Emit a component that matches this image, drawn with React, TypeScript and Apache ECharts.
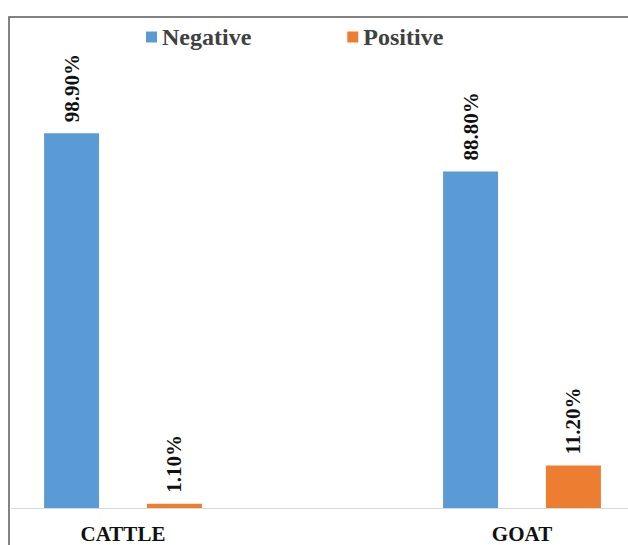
import React, { useEffect, useRef } from "react";
import * as echarts from "echarts";

const categories = ["CATTLE", "GOAT"];
const negativeValues = [98.9, 88.8];
const positiveValues = [1.1, 11.2];
const seriesNames = ["Negative", "Positive"];

const OFFSET = 100;

export default function App() {
  const ref = useRef<HTMLDivElement>(null);
  useEffect(() => {
    const chart = echarts.init(ref.current!, null, { renderer: "svg" });
    const font = "'Liberation Serif', 'Times New Roman', serif";
    const label = {
      show: true,
      position: "top",
      rotate: 90,
      align: "left",
      verticalAlign: "middle",
      distance: 11,
      fontFamily: font,
      fontWeight: "bold",
      fontSize: 21,
      color: "#111",
      formatter: (p: any) => p.value.toFixed(2) + "%",
    };
    chart.setOption({
      animation: false,
      backgroundColor: "#fff",
      textStyle: { fontFamily: font },
      legend: {
        left: 146 + OFFSET - 5,
        top: 20,
        itemWidth: 11,
        itemHeight: 11,
        itemGap: 96,
        icon: "rect",
        textStyle: { fontFamily: font, fontWeight: "bold", fontSize: 24, color: "#404040" },
        data: seriesNames,
      },
      grid: { left: OFFSET - 76.5, width: 798, top: 129, bottom: 37 },
      xAxis: {
        type: "category",
        data: categories,
        axisLine: { show: false },
        axisTick: { show: false },
        axisLabel: { margin: 15, fontFamily: font, fontWeight: "bold", fontSize: 21, color: "#111" },
      },
      yAxis: { type: "value", min: 0, max: 100, show: false, splitLine: { show: false } },
      graphic: [
        { type: "line", shape: { x1: 11 + OFFSET, y1: 508.5, x2: 628 + OFFSET, y2: 508.5 }, style: { stroke: "#d9d9d9", lineWidth: 1 } },
        { type: "rect", shape: { x: 9 + OFFSET, y: 17, width: 640, height: 560 }, style: { fill: "none", stroke: "#5a5a5a", lineWidth: 1.5 } },
      ],
      series: [
        { name: seriesNames[0], type: "bar", data: negativeValues, barWidth: 55, barGap: "87%", itemStyle: { color: "#5B9BD5" }, label },
        { name: seriesNames[1], type: "bar", data: positiveValues, barWidth: 55, itemStyle: { color: "#ED7D31" }, label },
      ],
    });
    return () => chart.dispose();
  }, []);
  return <div ref={ref} style={{ position: "fixed", left: -OFFSET, top: 0, width: 900, height: 545 }} />;
}
